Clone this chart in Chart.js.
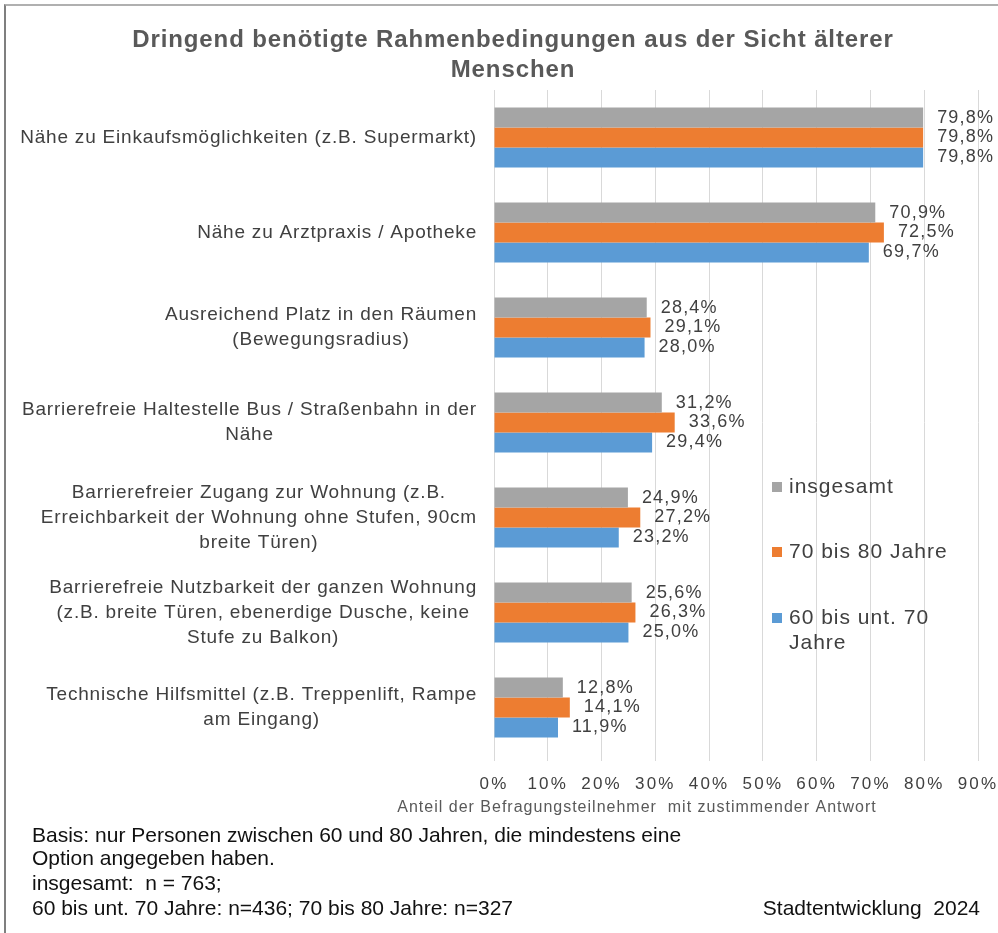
<!DOCTYPE html>
<html><head><meta charset="utf-8">
<script src="https://cdn.jsdelivr.net/npm/chart.js@4/dist/chart.umd.min.js"></script>
<style>
html,body{margin:0;padding:0;background:#fff;}
#wrap{position:relative;width:998px;height:933px;overflow:hidden;}
#frame{position:absolute;left:4px;top:4px;width:1100px;height:1000px;border-left:2px solid #7f7f7f;border-top:2px solid #b0b0b0;}
canvas{position:absolute;left:0;top:0;}
.note{position:absolute;font:21px "Liberation Sans",Arial,sans-serif;color:#111;line-height:24px;white-space:nowrap;}
</style></head><body>
<div id="wrap">
<div id="frame"></div>
<canvas id="c" width="998" height="933"></canvas>
<div class="note" style="left:32px;top:823px;">Basis: nur Personen zwischen 60 und 80 Jahren, die mindestens eine</div>
<div class="note" style="left:32px;top:846px;">Option angegeben haben.</div>
<div class="note" style="left:32px;top:871px;">insgesamt:&nbsp; n = 763;</div>
<div class="note" style="left:32px;top:896px;">60 bis unt. 70 Jahre: n=436; 70 bis 80 Jahre: n=327</div>
<div class="note" style="right:18px;top:896px;">Stadtentwicklung&nbsp; 2024</div>
</div>
<script>
const chartTitle = ["Dringend benötigte Rahmenbedingungen aus der Sicht älterer", "Menschen"];
const categories = [
  ["Nähe zu Einkaufsmöglichkeiten (z.B. Supermarkt)"],
  ["Nähe zu Arztpraxis / Apotheke"],
  ["Ausreichend Platz in den Räumen", "(Bewegungsradius)"],
  ["Barrierefreie Haltestelle Bus / Straßenbahn in der", "Nähe"],
  ["Barrierefreier Zugang zur Wohnung (z.B.", "Erreichbarkeit der Wohnung ohne Stufen, 90cm", "breite Türen)"],
  ["Barrierefreie Nutzbarkeit der ganzen Wohnung", "(z.B. breite Türen, ebenerdige Dusche, keine", "Stufe zu Balkon)"],
  ["Technische Hilfsmittel (z.B. Treppenlift, Rampe", "am Eingang)"]
];
const seriesNames = ["insgesamt", "70 bis 80 Jahre", "60 bis unt. 70 Jahre"];
const legendLines = [["insgesamt"], ["70 bis 80 Jahre"], ["60 bis unt. 70", "Jahre"]];
const insgesamt    = [79.8, 70.9, 28.4, 31.2, 24.9, 25.6, 12.8];
const jahre70bis80 = [79.8, 72.5, 29.1, 33.6, 27.2, 26.3, 14.1];
const jahre60bis70 = [79.8, 69.7, 28.0, 29.4, 23.2, 25.0, 11.9];
const xAxisTitle = "Anteil der Befragungsteilnehmer  mit zustimmender Antwort";
const xMin = 0, xMax = 90, xStep = 10;

const colors = ["#A5A5A5", "#ED7D31", "#5B9BD5"];
const FONT = '"Liberation Sans", Arial, sans-serif';
const TXT = "#404040";

const spacingPlugin = {
  id: 'spacing',
  beforeDraw(chart) { chart.ctx.letterSpacing = '2.2px'; }
};

const textPlugin = {
  id: 'texts',
  afterDraw(chart) {
    const ctx = chart.ctx, y = chart.scales.y;
    ctx.save();
    ctx.textAlign = 'center';
    ctx.textBaseline = 'middle';
    // title
    ctx.font = 'bold 24px ' + FONT;
    ctx.letterSpacing = '0.9px';
    ctx.fillStyle = '#595959';
    chartTitle.forEach((l, k) => ctx.fillText(l, 513, 40 + k * 30));
    // category labels
    ctx.letterSpacing = '0.8px';
    ctx.font = '19px ' + FONT;
    ctx.fillStyle = TXT;
    const right = 477, lh = 25;
    categories.forEach((lines, i) => {
      const cy = y.getPixelForTick(i);
      const w = Math.max(...lines.map(l => ctx.measureText(l).width));
      const cx = right - w / 2;
      const y0 = cy - (lines.length - 1) * lh / 2;
      lines.forEach((l, k) => ctx.fillText(l, cx, y0 + k * lh));
    });
    // x axis title
    ctx.font = '16px ' + FONT;
    ctx.letterSpacing = '1px';
    ctx.fillStyle = '#595959';
    ctx.fillText(xAxisTitle, 637, 808);
    // legend
    ctx.font = '21px ' + FONT;
    ctx.letterSpacing = '1px';
    ctx.textAlign = 'left';
    const ly = [487, 552, 618];
    legendLines.forEach((lines, i) => {
      ctx.fillStyle = colors[i];
      ctx.fillRect(772, ly[i] - 5, 10, 10);
      ctx.fillStyle = TXT;
      lines.forEach((l, k) => ctx.fillText(l, 789, ly[i] + k * 25));
    });
    ctx.restore();
  }
};

const valueLabelPlugin = {
  id: 'valueLabels',
  afterDatasetsDraw(chart) {
    const ctx = chart.ctx;
    ctx.save();
    ctx.letterSpacing = '1.2px';
    ctx.font = '18px ' + FONT;
    ctx.fillStyle = TXT;
    ctx.textAlign = 'left';
    ctx.textBaseline = 'middle';
    chart.data.datasets.forEach((ds, di) => {
      const meta = chart.getDatasetMeta(di);
      meta.data.forEach((el, i) => {
        const v = ds.data[i];
        ctx.fillText(v.toFixed(1).replace('.', ',') + '%', el.x + 14, el.y);
      });
    });
    ctx.restore();
  }
};

new Chart(document.getElementById('c'), {
  type: 'bar',
  data: {
    labels: categories,
    datasets: [
      { label: seriesNames[0], data: insgesamt, backgroundColor: colors[0] },
      { label: seriesNames[1], data: jahre70bis80, backgroundColor: colors[1] },
      { label: seriesNames[2], data: jahre60bis70, backgroundColor: colors[2] }
    ]
  },
  options: {
    indexAxis: 'y',
    responsive: false,
    animation: false,
    barPercentage: 1,
    categoryPercentage: 0.63,
    layout: { padding: { left: 48, right: 20, top: 90, bottom: 128 } },
    plugins: {
      legend: { display: false },
      tooltip: { enabled: false },
      title: { display: false }
    },
    scales: {
      x: {
        min: xMin, max: xMax,
        ticks: { stepSize: xStep, color: TXT, font: { family: FONT, size: 17 }, padding: 13,
                 maxRotation: 0, autoSkip: false, callback: v => v + '%' },
        grid: { color: '#d9d9d9', tickLength: 6 },
        border: { display: false },
        afterFit: s => { s.height = 50; s.paddingLeft = 0; s.paddingRight = 0; }
      },
      y: {
        ticks: { display: false },
        grid: { display: false },
        border: { display: false },
        afterFit: s => { s.width = 446; }
      }
    }
  },
  plugins: [spacingPlugin, valueLabelPlugin, textPlugin]
});
</script>
</body></html>
